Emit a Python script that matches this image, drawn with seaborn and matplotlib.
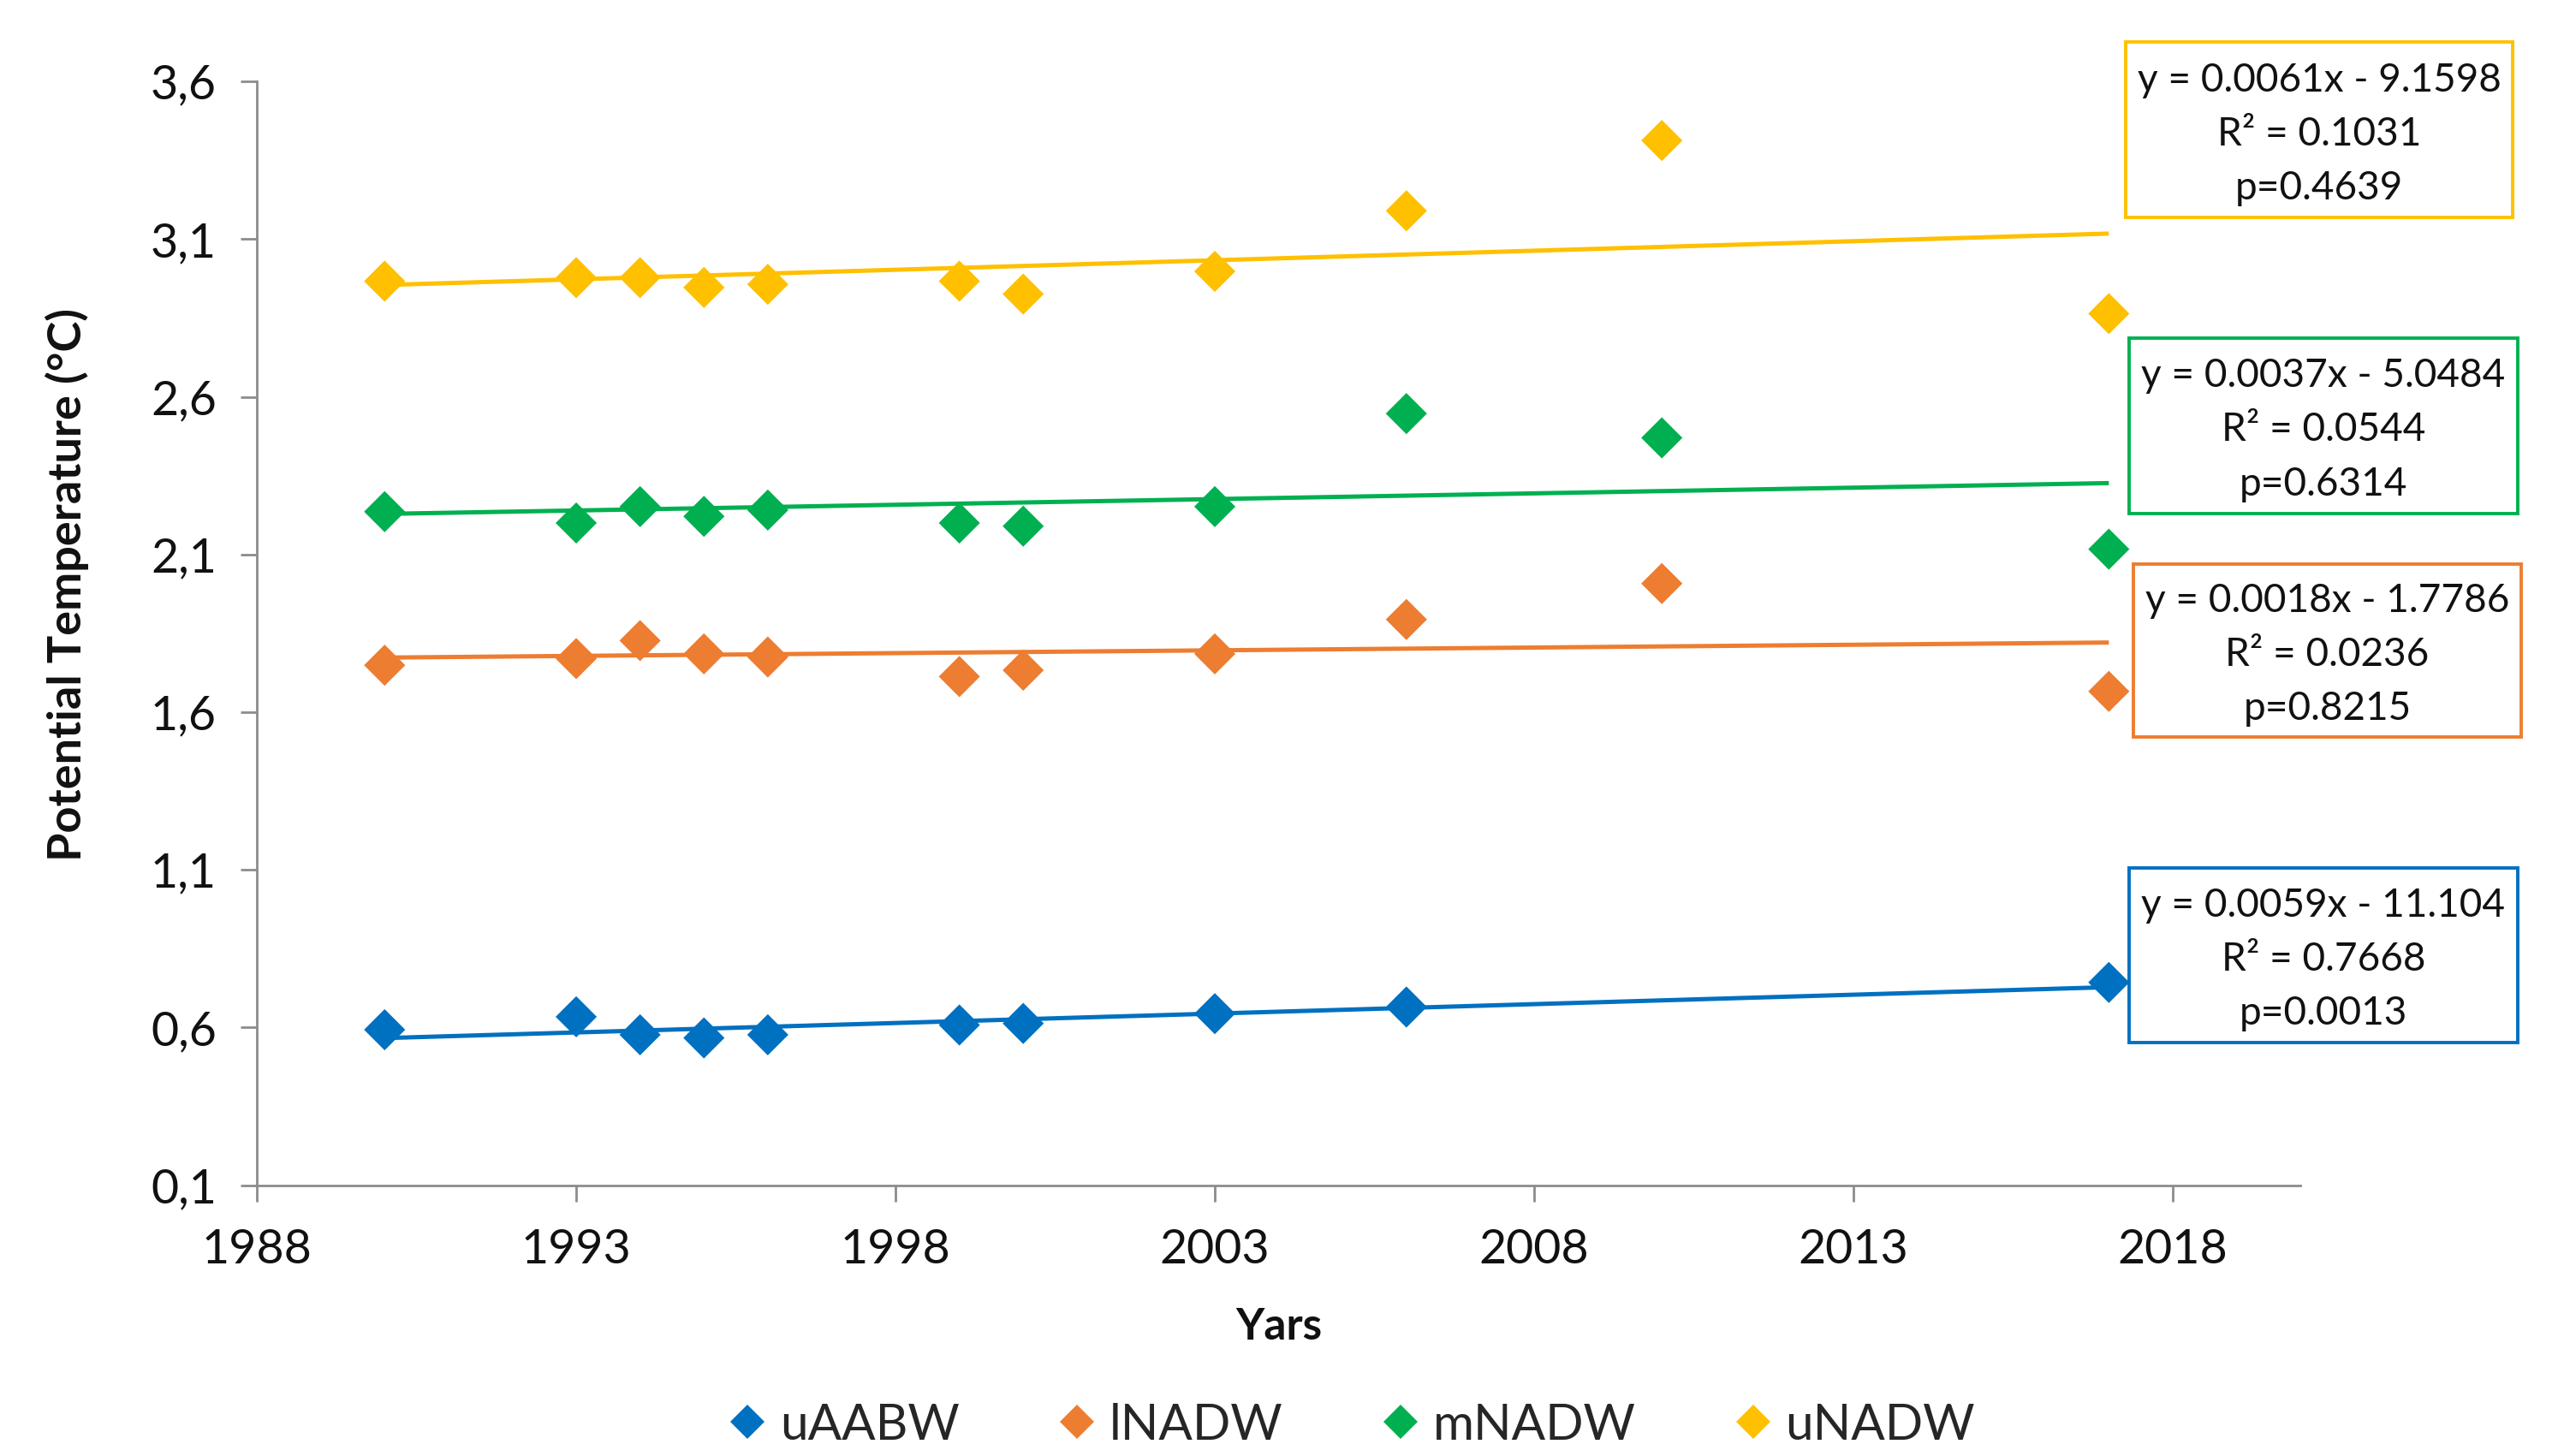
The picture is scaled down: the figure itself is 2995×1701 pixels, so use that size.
import numpy as np
import pandas as pd
import matplotlib
matplotlib.use("Agg")
import matplotlib.pyplot as plt
import seaborn as sns
from matplotlib.patches import Rectangle
from matplotlib.lines import Line2D
from matplotlib.ticker import FuncFormatter

# Sampling years and potential temperature (°C) per water mass
years = [1990, 1993, 1994, 1995, 1996, 1999, 2000, 2003, 2006, 2010, 2017]
uAABW = [0.593, 0.634, 0.577, 0.567, 0.577, 0.608, 0.613, 0.644, 0.665, np.nan, 0.743]
lNADW = [1.749, 1.770, 1.827, 1.785, 1.775, 1.713, 1.733, 1.785, 1.894, 2.008, 1.666]
mNADW = [2.236, 2.200, 2.252, 2.221, 2.241, 2.200, 2.190, 2.252, 2.547, 2.470, 2.117]
uNADW = [2.967, 2.978, 2.978, 2.947, 2.957, 2.967, 2.926, 2.998, 3.190, 3.413, 2.864]

series_names = ["uAABW", "lNADW", "mNADW", "uNADW"]
series_colors = ["#0070C0", "#ED7D31", "#00B050", "#FFC000"]

# Regression summaries shown next to each trend line
fit_labels = {
    "uNADW": ["y = 0.0061x - 9.1598", "R² = 0.1031", "p=0.4639"],
    "mNADW": ["y = 0.0037x - 5.0484", "R² = 0.0544", "p=0.6314"],
    "lNADW": ["y = 0.0018x - 1.7786", "R² = 0.0236", "p=0.8215"],
    "uAABW": ["y = 0.0059x - 11.104", "R² = 0.7668", "p=0.0013"],
}

y_ticks = [0.1, 0.6, 1.1, 1.6, 2.1, 2.6, 3.1, 3.6]
x_ticks = [1988, 1993, 1998, 2003, 2008, 2013, 2018]

values = {"uAABW": uAABW, "lNADW": lNADW, "mNADW": mNADW, "uNADW": uNADW}
df = pd.concat(
    [pd.DataFrame({"year": years, "temp": values[n], "series": n}) for n in series_names],
    ignore_index=True,
)

sns.set_style("ticks")
plt.rcParams["font.family"] = ["Lato", "DejaVu Sans"]

fig = plt.figure(figsize=(14.975, 8.505), dpi=200)
ax = fig.add_axes([0.1002, 0.186, 0.797, 0.758])

palette = dict(zip(series_names, series_colors))

# Linear trends over the sampled period
for name in series_names:
    sub = df[df["series"] == name]
    sns.regplot(data=sub, x="year", y="temp", ax=ax, scatter=False, ci=None,
                truncate=True, color=palette[name],
                line_kws={"lw": 1.8, "zorder": 2, "solid_capstyle": "butt"})

# Observations
sns.scatterplot(data=df, x="year", y="temp", hue="series", palette=palette,
                hue_order=series_names, marker="D", s=150, linewidth=0,
                legend=False, ax=ax, zorder=3)

ax.set_xlim(1988, 2020)
ax.set_ylim(0.1, 3.6)
ax.set_xticks(x_ticks)
ax.set_yticks(y_ticks)
ax.yaxis.set_major_formatter(FuncFormatter(lambda v, _: f"{v:.1f}".replace(".", ",")))

axis_grey = "#8C8C8C"
for side in ("top", "right"):
    ax.spines[side].set_visible(False)
for side in ("left", "bottom"):
    ax.spines[side].set_color(axis_grey)
    ax.spines[side].set_linewidth(1.0)
ax.tick_params(axis="both", direction="out", length=7, width=1.0, color=axis_grey,
               labelsize=20, labelcolor="#111111")
ax.tick_params(axis="x", pad=11)
ax.tick_params(axis="y", pad=10)

ax.set_xlabel("Yars", fontsize=18.5, fontweight="bold", color="#111111")
ax.set_ylabel("Potential Temperature (°C)", fontsize=19.5, fontweight="bold", color="#111111")
ax.xaxis.label.set_va("center")
ax.xaxis.set_label_coords(0.5, -0.129)
ax.yaxis.label.set_va("center")
ax.yaxis.set_label_coords(-0.093, 0.544)

# Framed regression summaries, in axes coordinates (x0, x1, y0, y1)
boxes = {
    "uNADW": (0.9144, 1.1040, 0.877, 1.0356),
    "mNADW": (0.9160, 1.1064, 0.6089, 0.7674),
    "lNADW": (0.9184, 1.1080, 0.4059, 0.5630),
    "uAABW": (0.9160, 1.1064, 0.1289, 0.2874),
}
for name, (x0, x1, y0, y1) in boxes.items():
    ax.add_patch(Rectangle((x0, y0), x1 - x0, y1 - y0, transform=ax.transAxes,
                           fill=True, facecolor="white", edgecolor=palette[name],
                           lw=1.4, clip_on=False, zorder=4))
    ax.text((x0 + x1) / 2, (y0 + y1) / 2 - 0.004, "\n".join(fit_labels[name]),
            transform=ax.transAxes, ha="center", va="center", fontsize=16.5,
            linespacing=1.62, color="#111111", zorder=5, clip_on=False)

handles = [Line2D([0], [0], marker="D", linestyle="none", markersize=10,
                  markerfacecolor=c, markeredgewidth=0) for c in series_colors]
fig.legend(handles, series_names, loc="center", bbox_to_anchor=(0.527, 0.021),
           ncol=4, frameon=False, fontsize=21, handlelength=0.8, handletextpad=0.25,
           columnspacing=1.95)

fig.savefig("out.png", dpi=200, facecolor="white")
